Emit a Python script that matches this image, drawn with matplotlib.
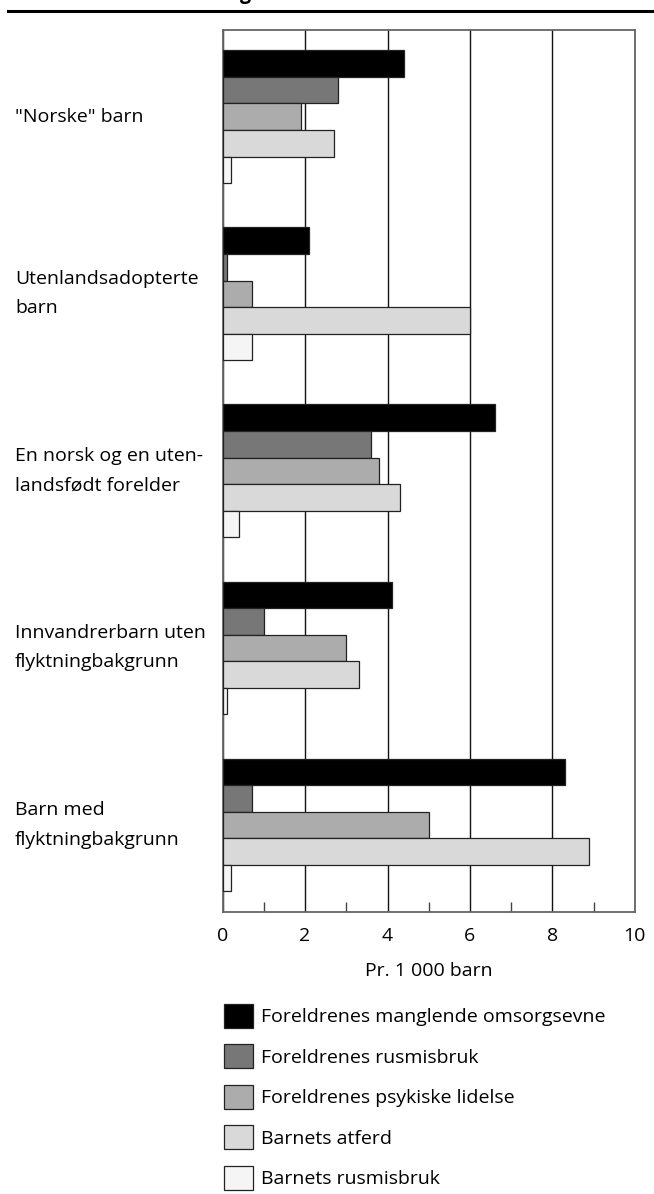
import numpy as np
import matplotlib
matplotlib.use('Agg')
import matplotlib.pyplot as plt
from matplotlib.transforms import blended_transform_factory

plt.rcParams['font.family'] = ['Open Sans', 'DejaVu Sans']

# Data (per 1 000 children)
groups = ['"Norske" barn', 'Utenlandsadopterte\nbarn', 'En norsk og en uten-\nlandsfødt forelder',
          'Innvandrerbarn uten\nflyktningbakgrunn', 'Barn med\nflyktningbakgrunn']
series = ['Foreldrenes manglende omsorgsevne', 'Foreldrenes rusmisbruk',
          'Foreldrenes psykiske lidelse', 'Barnets atferd', 'Barnets rusmisbruk']
omsorgsevne = [4.4, 2.1, 6.6, 4.1, 8.3]
foreldre_rus = [2.8, 0.1, 3.6, 1.0, 0.7]
psykiske = [1.9, 0.7, 3.8, 3.0, 5.0]
atferd = [2.7, 6.0, 4.3, 3.3, 8.9]
barn_rus = [0.2, 0.7, 0.4, 0.1, 0.2]
values = [omsorgsevne, foreldre_rus, psykiske, atferd, barn_rus]
colors = ['#000000', '#777777', '#acacac', '#d9d9d9', '#f5f5f5']
xticks = [0, 2, 4, 6, 8, 10]

fig = plt.figure(figsize=(6.54, 11.94), dpi=100)
ax = fig.add_axes([222.7/654, 1-911.7/1194, 412/654, 881.7/1194])

y = np.arange(len(groups))
h = 0.15
for i, (vals, col, lab) in enumerate(zip(values, colors, series)):
    ax.barh(y + (i-2)*h, vals, height=h, color=col, edgecolor='#222222', linewidth=0.9,
            label=lab, zorder=3)

ax.set_ylim(4.49, -0.49)
ax.set_xlim(0, 10)
ax.set_yticks([])
ax.set_xticks(xticks)
ax.set_xticks([1, 3, 5, 7, 9], minor=True)
ax.tick_params(axis='x', which='major', length=0, pad=11, labelsize=14)
ax.tick_params(axis='x', which='minor', direction='in', length=7, width=1, color='#444444')
ax.grid(axis='x', which='major', color='#111111', linewidth=1.0, zorder=1)
for s in ax.spines.values():
    s.set_color('#666666')
    s.set_linewidth(1.3)
ax.set_xlabel('Pr. 1 000 barn', fontsize=14, labelpad=12)

# category labels on the left
trans = blended_transform_factory(fig.transFigure, ax.transData)
for yi, g in zip(y, groups):
    ax.text(15/654, yi, g, transform=trans, ha='left', va='center', fontsize=14,
            linespacing=1.8)

# legend
fig.legend(loc='upper left', bbox_to_anchor=(224/654, 1-1004/1194), frameon=False,
           fontsize=14, handlelength=1.5, handleheight=1.5, labelspacing=0.86,
           handletextpad=0.4, borderpad=0, borderaxespad=0)

# top rule and cut-off heading
fig.add_artist(plt.Line2D([8/654, 1], [1-11/1194, 1-11/1194], color='black', linewidth=2.2))
fig.text(240/654, 1+1/1194, 'g', fontsize=14, fontweight='bold', va='baseline')

fig.savefig('out.png', dpi=100)
